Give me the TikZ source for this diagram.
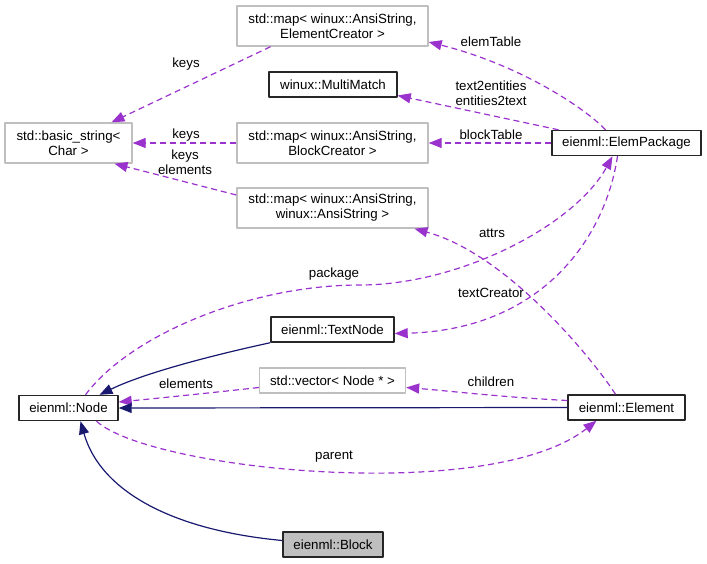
\documentclass[tikz,border=0pt]{standalone}
\usepackage{fontspec}
\setmainfont{Liberation Sans}
\usetikzlibrary{arrows.meta}
\definecolor{edgepurple}{HTML}{9A32CD}
\definecolor{edgenavy}{HTML}{191970}
\definecolor{boxgray}{HTML}{BFBFBF}
\begin{document}
\begin{tikzpicture}[x=1pt,y=-1pt,line join=round,
  font=\fontsize{13.3pt}{15pt}\selectfont,
  cls/.style={draw=black!85,line width=1.4pt,fill=white,inner sep=0pt,align=center,minimum height=25pt},
  ext/.style={cls,draw=boxgray},
  uses/.style={draw=edgepurple,line width=1.2pt,dash pattern=on 6pt off 4pt,
    -{Triangle[length=13pt,width=10pt,fill=edgepurple]}},
  inherits/.style={draw=edgenavy,line width=1.2pt,
    -{Triangle[length=13pt,width=10pt,fill=edgenavy]}},
  lbl/.style={inner sep=0pt,align=center}]
  \useasboundingbox (0,0) rectangle (707,563);
  \node[ext,minimum width=191pt,minimum height=40pt] (ecmap) at (332.5,26) {std::map< winux::AnsiString,\\ElementCreator >};
  \node[cls,minimum width=128pt] (mmatch) at (333,84.5) {winux::MultiMatch};
  \node[ext,minimum width=127pt,minimum height=40pt] (bstr) at (68.5,143) {std::basic\_string<\\Char >};
  \node[ext,minimum width=191pt,minimum height=40pt] (bcmap) at (332.5,143) {std::map< winux::AnsiString,\\BlockCreator >};
  \node[ext,minimum width=191pt,minimum height=40pt] (asmap) at (332.5,208) {std::map< winux::AnsiString,\\winux::AnsiString >};
  \node[cls,minimum width=149pt] (epkg) at (626.5,143) {eienml::ElemPackage};
  \node[cls,minimum width=123pt] (tnode) at (332.5,329.5) {eienml::TextNode};
  \node[ext,minimum width=146pt] (nvec) at (332.5,380.5) {std::vector< Node * >};
  \node[cls,minimum width=99pt] (enode) at (68.5,408) {eienml::Node};
  \node[cls,minimum width=117pt] (elem) at (626.5,407.5) {eienml::Element};
  \node[cls,fill=boxgray,minimum width=100pt] (block) at (333,544.5) {eienml::Block};

  \draw[uses] ([xshift=-62pt]ecmap.south) -- ([xshift=43pt]bstr.north);
  \draw[uses] ([xshift=-21pt]epkg.north) .. controls (585,108) and (520,65) .. ([yshift=-16pt]ecmap.east);
  \draw[uses] ([xshift=-68pt]epkg.north) -- ([yshift=-11pt]mmatch.east);
  \draw[uses] (bcmap.west) -- (bstr.east);
  \draw[uses] (epkg.west) -- (bcmap.east);
  \draw[uses] ([yshift=13pt]asmap.west) -- ([xshift=46pt]bstr.south);
  \draw[uses] ([xshift=-11pt]elem.north) .. controls (597,365) and (510,255) .. ([xshift=82pt]asmap.south);
  \draw[uses] ([xshift=17pt]enode.north) .. controls (130,335) and (250,285) .. (360,285)
    .. controls (460,285) and (575,225) .. ([xshift=-14pt]epkg.south);
  \draw[uses] ([xshift=-9pt]epkg.south) .. controls (605,240) and (540,330) .. ([yshift=-4pt]tnode.east);
  \draw[inherits] (tnode.south west) .. controls (200,358) and (140,375) .. ([xshift=31pt]enode.north);
  \draw[uses] ([yshift=-7pt]nvec.west) .. controls (200,394) and (150,399) .. ([yshift=6pt]enode.east);
  \draw[uses] ([yshift=7pt]elem.west) .. controls (500,397) and (450,391) .. ([yshift=-7pt]nvec.east);
  \draw[inherits] (elem.west) -- (enode.east);
  \draw[uses] ([xshift=28pt]enode.south) .. controls (150,470) and (490,505) .. ([xshift=-30pt]elem.south);
  \draw[inherits] ([yshift=4pt]block.west) .. controls (170,530) and (100,490) .. ([xshift=12pt]enode.south);

  \node[lbl] (keysa) at (186,64) {keys};
  \node[lbl] (elemtab) at (491,42) {elemTable};
  \node[lbl] (textent) at (491,93) {text2entities\\entities2text};
  \node[lbl] (keysb) at (186,135) {keys};
  \node[lbl] (blocktab) at (491,135) {blockTable};
  \node[lbl] (keysc) at (185,162) {keys\\elements};
  \node[lbl] (attrs) at (492,233) {attrs};
  \node[lbl] (package) at (334,274) {package};
  \node[lbl] (textcr) at (491,293) {textCreator};
  \node[lbl] (elems) at (186,384) {elements};
  \node[lbl] (childr) at (491,382) {children};
  \node[lbl] (parent) at (334,457) {parent};
\end{tikzpicture}
\end{document}
